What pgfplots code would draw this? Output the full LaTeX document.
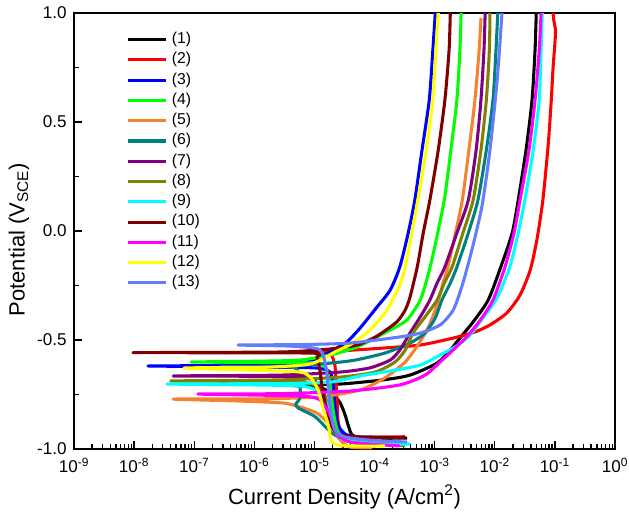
\documentclass[border=0pt]{standalone}
\usepackage{fontspec}
\setmainfont{Liberation Sans}
\usepackage{pgfplots}
\pgfplotsset{compat=1.18}
\definecolor{c1}{RGB}{0,0,0}
\definecolor{c2}{RGB}{255,0,0}
\definecolor{c3}{RGB}{0,0,255}
\definecolor{c4}{RGB}{0,255,0}
\definecolor{c5}{RGB}{245,130,48}
\definecolor{c6}{RGB}{0,128,128}
\definecolor{c7}{RGB}{128,0,128}
\definecolor{c8}{RGB}{128,128,0}
\definecolor{c9}{RGB}{0,255,255}
\definecolor{c10}{RGB}{128,0,0}
\definecolor{c11}{RGB}{255,0,255}
\definecolor{c12}{RGB}{255,255,0}
\definecolor{c13}{RGB}{100,125,255}
\begin{document}
\begin{tikzpicture}
\begin{axis}[
  name=ax,
  width=405.75pt, height=327pt, scale only axis,
  xmin=-9, xmax=0, ymin=-1, ymax=1,
  axis line style={line width=1.1pt},
  tick align=inside,
  xtick pos=bottom, ytick pos=left,
  major tick length=6pt, minor tick length=3.5pt,
  tick style={line width=1pt, black},
  xtick={-9,-8,-7,-6,-5,-4,-3,-2,-1,0},
  xticklabels={10\textsuperscript{-9},10\textsuperscript{-8},10\textsuperscript{-7},10\textsuperscript{-6},10\textsuperscript{-5},10\textsuperscript{-4},10\textsuperscript{-3},10\textsuperscript{-2},10\textsuperscript{-1},10\textsuperscript{0}},
  minor xtick={-8.699,-8.523,-8.398,-8.301,-8.222,-8.155,-8.097,-8.046,
   -7.699,-7.523,-7.398,-7.301,-7.222,-7.155,-7.097,-7.046,
   -6.699,-6.523,-6.398,-6.301,-6.222,-6.155,-6.097,-6.046,
   -5.699,-5.523,-5.398,-5.301,-5.222,-5.155,-5.097,-5.046,
   -4.699,-4.523,-4.398,-4.301,-4.222,-4.155,-4.097,-4.046,
   -3.699,-3.523,-3.398,-3.301,-3.222,-3.155,-3.097,-3.046,
   -2.699,-2.523,-2.398,-2.301,-2.222,-2.155,-2.097,-2.046,
   -1.699,-1.523,-1.398,-1.301,-1.222,-1.155,-1.097,-1.046,
   -0.699,-0.523,-0.398,-0.301,-0.222,-0.155,-0.097,-0.046},
  ytick={-1,-0.5,0,0.5,1},
  yticklabels={-1.0,-0.5,0.0,0.5,1.0},
  minor ytick={-0.75,-0.25,0.25,0.75},
  ticklabel style={font=\fontsize{12.8}{14}\selectfont},
  xticklabel style={yshift=-3.5pt},
  yticklabel style={xshift=-2pt},
  every axis x label/.style={at={(axis description cs:0.5,-0.11)},anchor=center},
  every axis y label/.style={at={(axis description cs:-0.1017,0.48)},rotate=90,anchor=center},
  label style={font=\fontsize{16.5}{18}\selectfont},
  xlabel={Current Density (A/cm\textsuperscript{2})},
  ylabel={Potential (V\textsubscript{SCE})},
  legend cell align=left,
  legend image code/.code={\draw[#1,line width=2.3pt] (0pt,0pt) -- (29pt,0pt);},
  legend style={at={(axis description cs:0.096,0.957)}, anchor=north west,
    draw=none, fill=none, inner sep=0pt, row sep=3.7pt,
    font=\fontsize{11.8}{12}\selectfont,
    nodes={inner sep=0pt, text height=8.6pt, text depth=2.9pt},
    /tikz/every odd column/.append style={column sep=3pt}},
  every axis plot/.append style={line width=2.3pt, line join=round, no markers, smooth, tension=0.4},
]
\addplot[c1] coordinates {(-3.46,-0.950) (-4.16,-0.950) (-4.37,-0.936) (-4.44,-0.890) (-4.49,-0.844) (-4.57,-0.789) (-4.69,-0.752) (-4.91,-0.716) (-5.24,-0.711) (-5.49,-0.706) (-5.24,-0.704) (-4.57,-0.702) (-3.86,-0.683) (-3.41,-0.661) (-2.96,-0.606) (-2.74,-0.546) (-2.58,-0.491) (-2.36,-0.417) (-2.11,-0.317) (-1.90,-0.165) (-1.71,-0.009) (-1.61,0.142) (-1.48,0.372) (-1.38,0.601) (-1.33,0.830) (-1.31,1.0)};
\addlegendentry{(1)}
\addplot[c2] coordinates {(-3.49,-0.945) (-4.24,-0.945) (-4.49,-0.936) (-4.57,-0.913) (-4.61,-0.867) (-4.62,-0.798) (-4.64,-0.706) (-4.66,-0.615) (-4.74,-0.564) (-5.02,-0.555) (-4.57,-0.550) (-3.86,-0.537) (-3.24,-0.523) (-2.69,-0.491) (-2.33,-0.463) (-2.08,-0.431) (-1.80,-0.376) (-1.58,-0.294) (-1.41,-0.179) (-1.30,-0.041) (-1.20,0.142) (-1.11,0.400) (-1.06,0.601) (-1.03,0.750) (-1.00,0.860) (-0.99,0.920) (-1.02,0.970) (-1.03,1.0)};
\addlegendentry{(2)}
\addplot[c3] coordinates {(-4.04,-0.945) (-4.32,-0.945) (-4.49,-0.931) (-4.61,-0.890) (-4.66,-0.798) (-4.69,-0.706) (-4.74,-0.647) (-4.99,-0.628) (-6.07,-0.624) (-7.77,-0.619) (-6.07,-0.617) (-5.24,-0.610) (-4.91,-0.578) (-4.66,-0.541) (-4.46,-0.509) (-4.24,-0.445) (-3.96,-0.349) (-3.74,-0.271) (-3.58,-0.165) (-3.44,-0.009) (-3.33,0.142) (-3.21,0.372) (-3.09,0.601) (-3.03,0.830) (-2.99,1.0)};
\addlegendentry{(3)}
\addplot[c4] coordinates {(-3.66,-0.982) (-4.24,-0.977) (-4.49,-0.959) (-4.62,-0.913) (-4.69,-0.821) (-4.74,-0.706) (-4.81,-0.628) (-4.99,-0.606) (-5.91,-0.603) (-7.05,-0.601) (-5.91,-0.597) (-5.24,-0.592) (-4.74,-0.569) (-4.29,-0.532) (-3.74,-0.454) (-3.46,-0.408) (-3.24,-0.317) (-3.11,-0.202) (-3.01,-0.087) (-2.84,0.142) (-2.73,0.372) (-2.63,0.601) (-2.58,0.830) (-2.56,1.0)};
\addlegendentry{(4)}
\addplot[c5] coordinates {(-4.04,-0.995) (-4.41,-0.991) (-4.57,-0.959) (-4.74,-0.890) (-4.96,-0.835) (-5.24,-0.807) (-5.52,-0.789) (-6.24,-0.780) (-7.35,-0.771) (-5.91,-0.770) (-4.91,-0.761) (-4.24,-0.729) (-3.83,-0.674) (-3.49,-0.601) (-3.28,-0.523) (-3.11,-0.445) (-2.96,-0.339) (-2.86,-0.239) (-2.78,-0.165) (-2.66,-0.018) (-2.54,0.142) (-2.43,0.372) (-2.33,0.601) (-2.26,0.830) (-2.23,0.977)};
\addlegendentry{(5)}
\addplot[c6] coordinates {(-3.53,-0.972) (-4.08,-0.963) (-4.46,-0.959) (-4.71,-0.927) (-4.96,-0.858) (-5.07,-0.839) (-5.27,-0.812) (-5.31,-0.794) (-5.24,-0.766) (-5.24,-0.706) (-5.27,-0.647) (-5.41,-0.624) (-6.57,-0.622) (-5.41,-0.619) (-4.74,-0.606) (-4.32,-0.592) (-3.83,-0.560) (-3.41,-0.514) (-3.16,-0.468) (-2.99,-0.399) (-2.88,-0.317) (-2.74,-0.239) (-2.63,-0.165) (-2.44,-0.009) (-2.28,0.142) (-2.14,0.372) (-2.03,0.601) (-1.98,0.830) (-1.95,1.0)};
\addlegendentry{(6)}
\addplot[c7] coordinates {(-3.58,-0.982) (-4.24,-0.968) (-4.61,-0.936) (-4.74,-0.867) (-4.81,-0.775) (-4.91,-0.711) (-5.24,-0.670) (-7.35,-0.665) (-5.57,-0.661) (-4.57,-0.647) (-4.08,-0.628) (-3.74,-0.592) (-3.58,-0.546) (-3.41,-0.468) (-3.24,-0.394) (-3.08,-0.317) (-2.96,-0.239) (-2.83,-0.165) (-2.63,-0.009) (-2.44,0.142) (-2.31,0.372) (-2.23,0.601) (-2.18,0.830) (-2.16,1.0)};
\addlegendentry{(7)}
\addplot[c8] coordinates {(-3.49,-0.986) (-3.91,-0.972) (-4.57,-0.945) (-4.71,-0.890) (-4.77,-0.798) (-4.91,-0.729) (-5.24,-0.693) (-7.39,-0.688) (-5.57,-0.683) (-4.57,-0.670) (-3.99,-0.647) (-3.66,-0.601) (-3.49,-0.546) (-3.36,-0.468) (-3.16,-0.394) (-2.96,-0.317) (-2.84,-0.239) (-2.71,-0.165) (-2.53,-0.009) (-2.36,0.142) (-2.23,0.372) (-2.14,0.601) (-2.09,0.830) (-2.08,1.0)};
\addlegendentry{(8)}
\addplot[c9] coordinates {(-3.41,-0.977) (-3.91,-0.977) (-4.49,-0.959) (-4.66,-0.913) (-4.74,-0.821) (-4.91,-0.752) (-5.24,-0.711) (-7.45,-0.702) (-5.57,-0.700) (-4.74,-0.693) (-4.24,-0.665) (-3.74,-0.642) (-3.24,-0.615) (-2.91,-0.569) (-2.61,-0.523) (-2.41,-0.477) (-2.16,-0.385) (-1.96,-0.307) (-1.75,-0.165) (-1.61,-0.009) (-1.50,0.142) (-1.36,0.372) (-1.26,0.601) (-1.23,0.830) (-1.21,1.0)};
\addlegendentry{(9)}
\addplot[c10] coordinates {(-3.49,-0.945) (-4.24,-0.945) (-4.57,-0.936) (-4.71,-0.899) (-4.79,-0.821) (-4.86,-0.743) (-4.91,-0.638) (-4.96,-0.578) (-5.07,-0.560) (-8.02,-0.558) (-5.57,-0.555) (-4.74,-0.541) (-4.29,-0.523) (-3.96,-0.482) (-3.63,-0.417) (-3.49,-0.362) (-3.41,-0.303) (-3.29,-0.165) (-3.19,-0.009) (-3.08,0.142) (-2.94,0.372) (-2.83,0.601) (-2.76,0.830) (-2.74,1.0)};
\addlegendentry{(10)}
\addplot[c11] coordinates {(-3.58,-0.986) (-4.41,-0.968) (-4.64,-0.922) (-4.74,-0.844) (-4.91,-0.775) (-5.24,-0.757) (-6.94,-0.748) (-5.57,-0.746) (-4.41,-0.734) (-3.58,-0.706) (-3.16,-0.661) (-2.91,-0.601) (-2.66,-0.537) (-2.44,-0.477) (-2.24,-0.408) (-2.03,-0.317) (-1.83,-0.165) (-1.68,-0.009) (-1.58,0.142) (-1.43,0.372) (-1.33,0.601) (-1.26,0.830) (-1.23,1.0)};
\addlegendentry{(11)}
\addplot[c12] coordinates {(-3.83,-0.986) (-4.49,-0.986) (-4.71,-0.968) (-4.77,-0.890) (-4.86,-0.812) (-4.94,-0.729) (-5.07,-0.670) (-5.24,-0.647) (-6.07,-0.638) (-7.17,-0.628) (-5.91,-0.626) (-5.07,-0.610) (-4.66,-0.555) (-4.36,-0.514) (-4.08,-0.454) (-3.79,-0.362) (-3.58,-0.248) (-3.49,-0.165) (-3.38,-0.009) (-3.28,0.142) (-3.14,0.372) (-3.03,0.601) (-2.98,0.830) (-2.94,1.0)};
\addlegendentry{(12)}
\addplot[c13] coordinates {(-3.46,-0.968) (-4.08,-0.959) (-4.49,-0.945) (-4.66,-0.913) (-4.72,-0.844) (-4.76,-0.752) (-4.79,-0.661) (-4.84,-0.583) (-4.94,-0.541) (-5.41,-0.528) (-6.27,-0.523) (-5.24,-0.521) (-4.41,-0.514) (-3.58,-0.486) (-3.24,-0.468) (-2.91,-0.431) (-2.69,-0.362) (-2.53,-0.239) (-2.36,-0.064) (-2.21,0.119) (-2.08,0.372) (-1.96,0.693) (-1.88,1.0)};
\addlegendentry{(13)}
\end{axis}
\pgfresetboundingbox
\path ([xshift=-55.5pt,yshift=-51.75pt]ax.south west) rectangle ([xshift=10.5pt,yshift=9.75pt]ax.north east);
\end{tikzpicture}
\end{document}
